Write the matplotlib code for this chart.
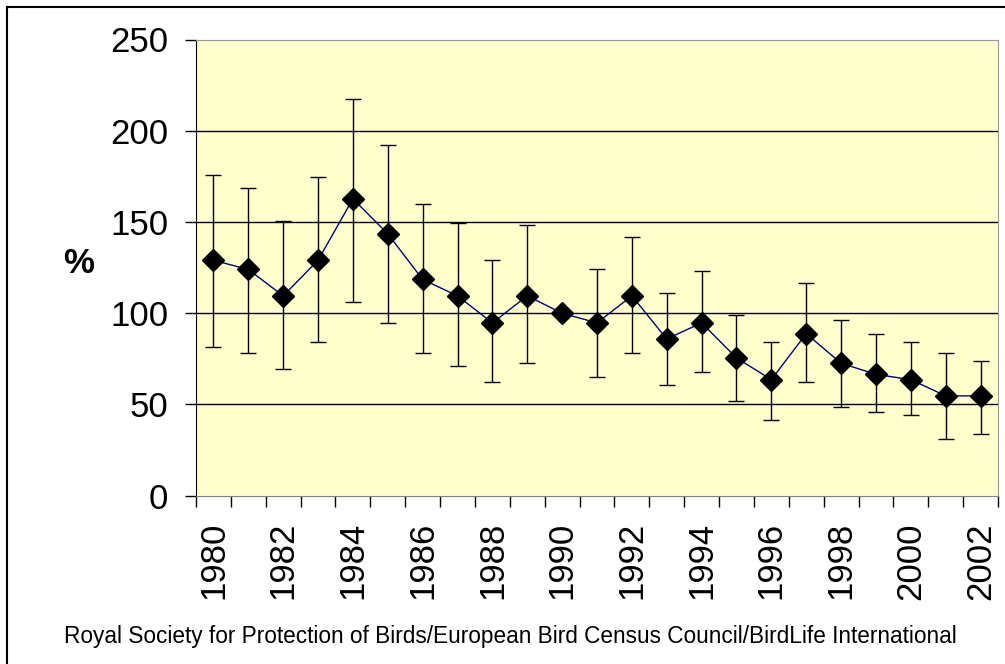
import numpy as np
import matplotlib.pyplot as plt
from matplotlib.lines import Line2D

years = list(range(1980, 2003))
index = [129, 124, 109.5, 129, 162.7, 143.5, 118.5, 109.5, 94.7, 109.5, 100, 94.7,
         109.5, 85.9, 94.7, 75.5, 63.6, 88.8, 72.6, 66.5, 63.6, 54.7, 54.7]
upper = [176, 168.6, 150.8, 174.8, 217.6, 192.3, 159.8, 149.5, 128.9, 148.1, 100, 124.3,
         142, 111, 122.9, 99.1, 84.3, 116.8, 96.2, 88.8, 84.3, 78.4, 74]
lower = [81.4, 78.4, 69.5, 84.3, 106.4, 94.7, 78.4, 70.9, 62.2, 72.6, 100, 65.1,
         78.4, 60.7, 68, 51.7, 41.3, 62.2, 48.8, 45.9, 44.2, 30.9, 34]
yticks = [0, 50, 100, 150, 200, 250]
source = "Royal Society for Protection of Birds/European Bird Census Council/BirdLife International"

plt.rcParams['font.family'] = ['Liberation Sans', 'DejaVu Sans']

W, H = 1005, 664
fig = plt.figure(figsize=(W / 100, H / 100), dpi=100)
ax = fig.add_axes([196 / W, 1 - 495.7 / H, (998 - 196) / W, (495.7 - 39.5) / H])
ax.set_facecolor('#FFFFCC')

x = np.arange(len(years))
idx = np.array(index)
err = [idx - np.array(lower), np.array(upper) - idx]

ax.errorbar(x, idx, yerr=err, fmt='none', ecolor='black', elinewidth=1,
            capsize=5.5, capthick=1, zorder=3)
ax.plot(x, idx, color='#000080', lw=1, zorder=4)
ax.plot(x, idx, 'D', color='black', markersize=11.5, zorder=5)

ax.set_ylim(0, 250)
ax.set_yticks(yticks)
ax.set_xlim(-0.5, len(years) - 0.5)
for v in yticks[1:-1]:
    ax.axhline(v, color='black', lw=1, zorder=1)

# category axis: ticks between categories, labels every 2 years
ax.set_xticks(np.arange(len(years) + 1) - 0.5, minor=False)
ax.set_xticklabels([])
ax.set_xticks(x[::2], minor=True)
ax.set_xticklabels([str(y) for y in years[::2]], minor=True, rotation=90, fontsize=25)
ax.tick_params(axis='x', which='major', length=8, width=1, color='black', direction='out')
ax.tick_params(axis='x', which='minor', length=0, pad=19)
ax.tick_params(axis='y', length=8, width=1, labelsize=25, pad=12)

for s in ['top', 'right']:
    ax.spines[s].set_color('#999999')
ax.spines['left'].set_color('black')
ax.spines['bottom'].set_color('#808080')

ax.text(-0.147, 0.51, '%', transform=ax.transAxes, fontsize=25,
        fontweight='bold', ha='center', va='center')

fig.text(510 / W, 1 - 636 / H, source, ha='center', va='center', fontsize=16.3)

# outer chart border
fig.add_artist(Line2D([7 / W, 1], [1 - 7 / H, 1 - 7 / H], color='black', lw=1.5))
fig.add_artist(Line2D([7 / W, 7 / W], [0, 1 - 7 / H], color='black', lw=1.5))

fig.savefig('out.png', dpi=100)
